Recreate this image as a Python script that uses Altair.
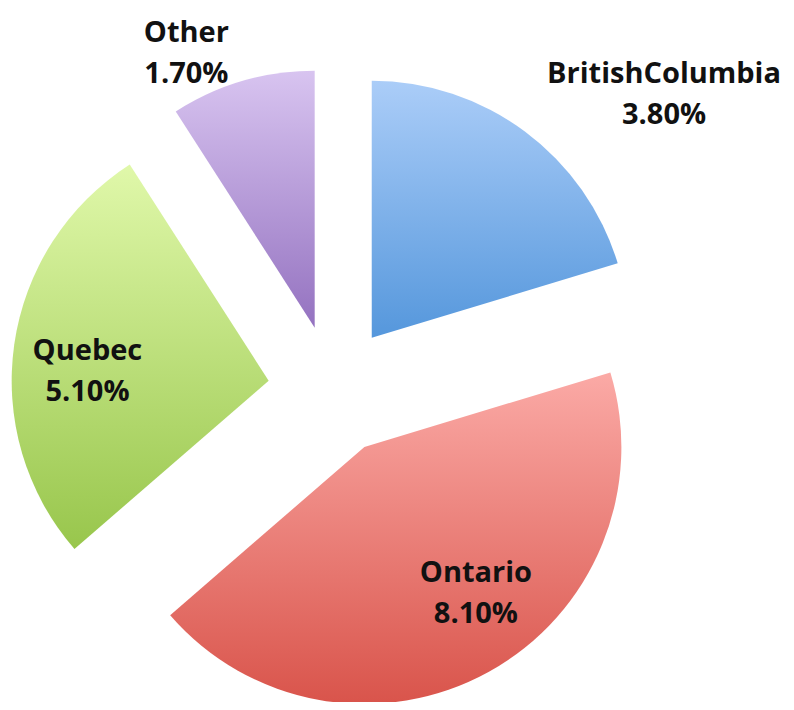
import altair as alt
import pandas as pd

# ---- data ----
regions = ["BritishColumbia", "Ontario", "Quebec", "Other"]
values = [3.8, 8.1, 5.1, 1.7]

df = pd.DataFrame({"region": regions, "value": values, "order": list(range(len(regions)))})

# ---- layout / style ----
CX, CY = 325, 382      # pie centre (px, chart coords)
EXPLODE = 65           # explosion distance
R = 257                # outer radius
LABEL_R = 175

gradients = {
    "BritishColumbia": ("#abcdf8", "#5597dc"),
    "Ontario": ("#fbaaa6", "#d9544b"),
    "Quebec": ("#e0f8aa", "#98c64c"),
    "Other": ("#d8c4f0", "#9472c0"),
}
label_shift = {
    "BritishColumbia": (188, -123),
    "Ontario": (27, -27),
    "Quebec": (-8, -5),
    "Other": (-79, -127),
}

base = (
    alt.Chart(df)
    .transform_joinaggregate(total="sum(value)")
    .transform_window(cum="sum(value)", sort=[alt.SortField("order")], frame=[None, 0])
    .transform_calculate(
        start="2*PI*(datum.cum - datum.value)/datum.total",
        end="2*PI*datum.cum/datum.total",
    )
    .transform_calculate(mid="(datum.start + datum.end)/2")
    .transform_calculate(
        px=f"{CX} + {EXPLODE}*sin(datum.mid)",
        py=f"{CY} - {EXPLODE}*cos(datum.mid)",
        lx=f"{CX} + ({EXPLODE}+{LABEL_R})*sin(datum.mid)",
        ly=f"{CY} - ({EXPLODE}+{LABEL_R})*cos(datum.mid)",
        label="datum.region + '\\n' + format(datum.value/100, '.2%')",
    )
)

layers = []
for reg in regions:
    top, bottom = gradients[reg]
    grad = alt.LinearGradient(
        gradient="linear",
        stops=[alt.GradientStop(color=top, offset=0), alt.GradientStop(color=bottom, offset=1)],
        x1=0, x2=0, y1=0, y2=1,
    )
    arc = (
        base.transform_filter(alt.datum.region == reg)
        .mark_arc(outerRadius=R, color=grad)
        .encode(
            x=alt.X("px:Q", scale=None, axis=None),
            y=alt.Y("py:Q", scale=None, axis=None),
            theta=alt.Theta("start:Q", scale=None),
            theta2="end:Q",
        )
    )
    layers.append(arc)

for reg in regions:
    dx, dy = label_shift[reg]
    txt = (
        base.transform_filter(alt.datum.region == reg)
        .mark_text(
            font="Open Sans", fontWeight="bold", fontSize=29, color="#111111",
            lineBreak="\n", lineHeight=41, align="center", baseline="middle",
            dx=dx, dy=dy,
        )
        .encode(
            x=alt.X("lx:Q", scale=None, axis=None),
            y=alt.Y("ly:Q", scale=None, axis=None),
            text="label:N",
        )
    )
    layers.append(txt)

chart = (
    alt.layer(*layers)
    .properties(width=778, height=694, padding=0, autosize=alt.AutoSizeParams(type="none"))
    .configure_view(stroke=None)
)

chart.save("out.html", embed_options={"renderer": "svg", "actions": False})
